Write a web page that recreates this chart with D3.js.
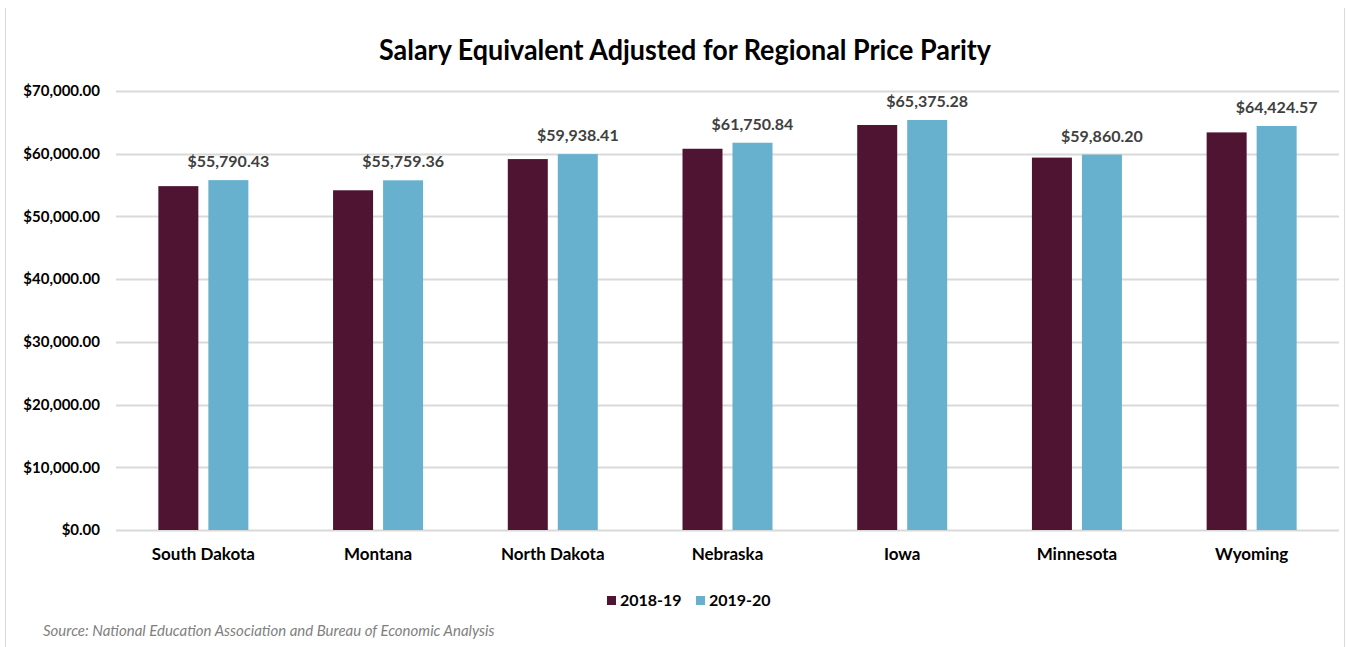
<!DOCTYPE html>
<html>
<head>
<meta charset="utf-8">
<script src="https://cdn.jsdelivr.net/npm/d3@7"></script>
<style>
  body { margin: 0; background: #fff; }
  .chart text { font-family: Lato, "Open Sans", sans-serif; }
  .yTick text { font-weight: bold; font-size: 15px; fill: #000; }
  .xTick text { font-weight: bold; font-size: 17px; fill: #000; }
  .barLabel { font-weight: bold; font-size: 16px; fill: #404040; }
  .legendText { font-weight: bold; font-size: 16px; fill: #000; }
</style>
</head>
<body>
<svg class="chart"></svg>
<script>
var states = ["South Dakota", "Montana", "North Dakota", "Nebraska", "Iowa", "Minnesota", "Wyoming"];
var salary2018 = [54830, 54170, 59145, 60790, 64580, 59380, 63400];
var salary2019 = [55790.43, 55759.36, 59938.41, 61750.84, 65375.28, 59860.20, 64424.57];
var seriesNames = ["2018-19", "2019-20"];
var yTicks = [0, 10000, 20000, 30000, 40000, 50000, 60000, 70000];

var colors = ["#4e1432", "#67b1cf"];
var width = 1347;
var height = 647;
var margin = {top: 91, right: 8, bottom: 117, left: 116};
var chartWidth = width - margin.left - margin.right;
var chartHeight = height - margin.top - margin.bottom;

var svg = d3.select(".chart")
            .attr("width", width)
            .attr("height", height);

// frame lines at the sides
svg.append("line").attr("x1", 5.5).attr("x2", 5.5).attr("y1", 8).attr("y2", height).attr("stroke", "#d9d9d9");
svg.append("line").attr("x1", 1344.5).attr("x2", 1344.5).attr("y1", 8).attr("y2", height).attr("stroke", "#d9d9d9");

svg.append("text")
   .attr("x", 685)
   .attr("y", 60)
   .attr("text-anchor", "middle")
   .attr("textLength", 612)
   .attr("lengthAdjust", "spacingAndGlyphs")
   .style("font-weight", "bold")
   .style("font-size", "28px")
   .style("fill", "#000")
   .text("Salary Equivalent Adjusted for Regional Price Parity");

var chart = svg.append("g")
               .attr("transform", "translate(" + margin.left + "," + margin.top + ")");

var x = d3.scaleBand().domain(states).range([0, chartWidth]);
var y = d3.scaleLinear().domain([0, 70000]).range([chartHeight, 0]);
var fmt = d3.format("$,.2f");

// gridlines
chart.append("g")
     .selectAll("line")
     .data(yTicks)
     .enter().append("line")
     .attr("x1", 0)
     .attr("x2", chartWidth)
     .attr("y1", function(d) { return Math.round(y(d)) + 0.5; })
     .attr("y2", function(d) { return Math.round(y(d)) + 0.5; })
     .attr("stroke", "#d9d9d9")
     .attr("stroke-width", 2);

// y axis labels
var yAxis = chart.append("g")
                 .attr("class", "yTick")
                 .call(d3.axisLeft(y).tickValues(yTicks).tickSize(0).tickPadding(16).tickFormat(fmt));
yAxis.select(".domain").remove();

// x axis labels
var xAxis = chart.append("g")
                 .attr("class", "xTick")
                 .attr("transform", "translate(0," + chartHeight + ")")
                 .call(d3.axisBottom(x).tickSize(0).tickPadding(18));
xAxis.select(".domain").remove();

var barWidth = 40;
var barGap = 10;

states.forEach(function(s, i) {
  var cx = x(s) + x.bandwidth() / 2;
  chart.append("rect")
       .attr("x", cx - barGap / 2 - barWidth)
       .attr("y", y(salary2018[i]))
       .attr("width", barWidth)
       .attr("height", chartHeight - y(salary2018[i]))
       .attr("fill", colors[0]);
  chart.append("rect")
       .attr("x", cx + barGap / 2)
       .attr("y", y(salary2019[i]))
       .attr("width", barWidth)
       .attr("height", chartHeight - y(salary2019[i]))
       .attr("fill", colors[1]);
  chart.append("text")
       .attr("class", "barLabel")
       .attr("x", cx + barGap / 2 + barWidth / 2)
       .attr("y", y(salary2019[i]) - 13)
       .attr("text-anchor", "middle")
       .text(fmt(salary2019[i]));
});

// legend
var legend = svg.append("g").attr("transform", "translate(607,600)");
var legendX = [0, 89];
seriesNames.forEach(function(name, i) {
  legend.append("rect")
        .attr("x", legendX[i])
        .attr("y", -4)
        .attr("width", 9)
        .attr("height", 9)
        .attr("fill", colors[i]);
  legend.append("text")
        .attr("class", "legendText")
        .attr("x", legendX[i] + 13)
        .attr("y", 6)
        .text(name);
});

svg.append("text")
   .attr("x", 43)
   .attr("y", 636)
   .style("font-style", "italic")
   .style("font-size", "15px")
   .style("fill", "#7f7f7f")
   .text("Source: National Education Association and Bureau of Economic Analysis");
</script>
</body>
</html>
